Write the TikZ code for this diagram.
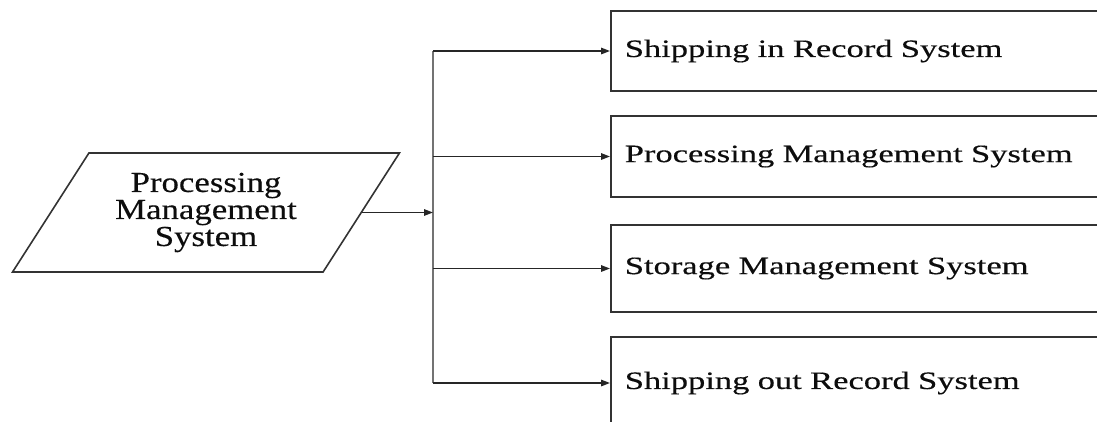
\documentclass[tikz,border=0pt]{standalone}
\usepackage{fontspec}
\setmainfont{Liberation Serif}
\newfontfamily\boxfont{Liberation Serif}[FakeStretch=1.38,FakeBold=0.35]
\newfontfamily\parafont{Liberation Serif}[FakeStretch=1.2,FakeBold=0.35]
\usetikzlibrary{shapes.geometric,arrows.meta}

\begin{document}
\begin{tikzpicture}[x=1pt,y=-1pt,
  line/.style={draw=black!85, line width=1.5pt},
  arr/.style={line, -{Triangle[length=9pt,width=6.5pt]}},
  bus/.style={draw=black!55, line width=2.6pt},
  sysbox/.style={draw=black!80, line width=1.6pt, anchor=west,
    text width=490pt, inner xsep=14pt, align=left, text=black!95,
    font=\boxfont\fontsize{25}{30}\selectfont},
  inbox/.style={trapezium, trapezium left angle=54.5, trapezium right angle=125.5,
    trapezium stretches=true, draw=black!80, line width=1.6pt,
    minimum width=388pt, minimum height=119pt, align=center, text=black!95,
    font=\parafont\fontsize{29}{27}\selectfont},
]
\useasboundingbox (0,0) rectangle (1097,421);
\clip (0,0) rectangle (1097,421);

% source parallelogram
\node[inbox] (pms) at (206,212.5) {Processing\\Management\\System};

% target systems
\node[sysbox, minimum height=80pt] (s1) at (610,51)    {Shipping in Record System};
\node[sysbox, minimum height=81pt] (s2) at (610,156.5) {Processing Management System};
\node[sysbox, minimum height=87pt] (s3) at (610,268.5) {Storage Management System};
\node[sysbox, minimum height=92pt] (s4) at (610,383)   {Shipping out Record System};

% distribution bus
\coordinate (bt) at (433,51);
\coordinate (bb) at (433,383);
\draw[bus] (bt) -- (bb);

% connectors
\draw[arr] (pms.east) -- (pms.east -| bt);
\draw[arr] (bt |- s1.west) -- (s1.west);
\draw[arr] (bt |- s2.west) -- (s2.west);
\draw[arr] (bt |- s3.west) -- (s3.west);
\draw[arr] (bb |- s4.west) -- (s4.west);
\end{tikzpicture}
\end{document}
